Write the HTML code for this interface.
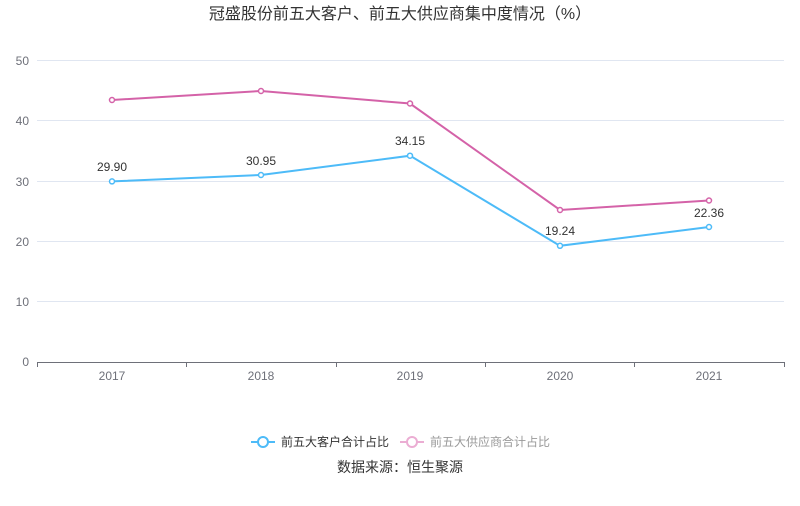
<!DOCTYPE html>
<html><head><meta charset="utf-8"><style>
body{margin:0;background:#fff;}
svg text{font-family:"Liberation Sans","Noto Sans CJK SC",sans-serif;}
</style></head><body>
<svg width="800" height="501" xmlns="http://www.w3.org/2000/svg">
<text x="400" y="19" text-anchor="middle" font-size="16" fill="#333">冠盛股份前五大客户、前五大供应商集中度情况（%）</text>
<g stroke="#e0e6f1" stroke-width="1">
<line x1="37" x2="784" y1="60.5" y2="60.5"/>
<line x1="37" x2="784" y1="120.5" y2="120.5"/>
<line x1="37" x2="784" y1="181.5" y2="181.5"/>
<line x1="37" x2="784" y1="241.5" y2="241.5"/>
<line x1="37" x2="784" y1="301.5" y2="301.5"/>
</g>
<line x1="37" x2="784" y1="362.5" y2="362.5" stroke="#6e7079"/>
<g stroke="#6e7079"><line x1="37.5" x2="37.5" y1="362" y2="367"/><line x1="186.5" x2="186.5" y1="362" y2="367"/><line x1="336.5" x2="336.5" y1="362" y2="367"/><line x1="485.5" x2="485.5" y1="362" y2="367"/><line x1="634.5" x2="634.5" y1="362" y2="367"/><line x1="784.5" x2="784.5" y1="362" y2="367"/></g>
<g font-size="12" fill="#6e7079" text-anchor="end">
<text x="29" y="65">50</text><text x="29" y="125">40</text><text x="29" y="186">30</text><text x="29" y="246">20</text><text x="29" y="306">10</text><text x="29" y="366">0</text>
</g>
<g font-size="12" fill="#6e7079" text-anchor="middle">
<text x="112" y="380">2017</text><text x="261" y="380">2018</text><text x="410" y="380">2019</text><text x="560" y="380">2020</text><text x="709" y="380">2021</text>
</g>
<polyline fill="none" stroke="#d462a8" stroke-width="2" points="112,100 261,91 410,103.5 560,210 709,200.5"/>
<g fill="#fff" stroke="#d462a8" stroke-width="1.5">
<circle cx="112" cy="100" r="2.5"/><circle cx="261" cy="91" r="2.5"/><circle cx="410" cy="103.5" r="2.5"/><circle cx="560" cy="210" r="2.5"/><circle cx="709" cy="200.5" r="2.5"/>
</g>
<polyline fill="none" stroke="#4dbbf8" stroke-width="2" points="112,181.4 261,175 410,155.7 560,245.8 709,227"/>
<g fill="#fff" stroke="#4dbbf8" stroke-width="1.5">
<circle cx="112" cy="181.4" r="2.5"/><circle cx="261" cy="175" r="2.5"/><circle cx="410" cy="155.7" r="2.5"/><circle cx="560" cy="245.8" r="2.5"/><circle cx="709" cy="227" r="2.5"/>
</g>
<g font-size="12" fill="#333" text-anchor="middle">
<text x="112" y="171">29.90</text><text x="261" y="165">30.95</text><text x="410" y="145">34.15</text><text x="560" y="235">19.24</text><text x="709" y="217">22.36</text>
</g>
<line x1="251" x2="275" y1="442" y2="442" stroke="#4dbbf8" stroke-width="2"/>
<circle cx="263" cy="442" r="5" fill="#fff" stroke="#4dbbf8" stroke-width="2"/>
<text x="281" y="446" font-size="12" fill="#333">前五大客户合计占比</text>
<line x1="400" x2="424" y1="442" y2="442" stroke="#ebadd3" stroke-width="2"/>
<circle cx="412" cy="442" r="5" fill="#fff" stroke="#ebadd3" stroke-width="2"/>
<text x="430" y="446" font-size="12" fill="#999">前五大供应商合计占比</text>
<text x="400" y="472" text-anchor="middle" font-size="14" fill="#333">数据来源：恒生聚源</text>
</svg>
</body></html>
